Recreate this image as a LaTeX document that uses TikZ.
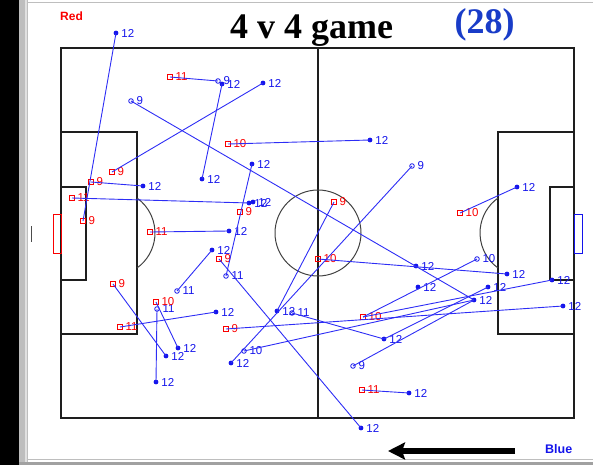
\documentclass[tikz,border=0pt]{standalone}
\usepackage{fontspec}
\setmainfont{Liberation Serif}
\newfontfamily\labfont{Liberation Sans}
\usetikzlibrary{arrows.meta}
\definecolor{ptblue}{RGB}{20,20,235}
\definecolor{lnblue}{RGB}{45,45,245}
\definecolor{ptred}{RGB}{250,0,0}
\definecolor{titleblue}{RGB}{25,60,200}
\definecolor{pitchc}{RGB}{30,30,30}
\definecolor{frameA}{RGB}{190,190,190}
\definecolor{frameB}{RGB}{225,225,225}
\begin{document}
\begin{tikzpicture}[x=1pt,y=-1pt,
  label distance=2.6pt,
  blab/.style={font=\labfont\fontsize{11.5}{12}\selectfont, text=ptblue, inner sep=0pt},
  rlab/.style={font=\labfont\fontsize{11.5}{12}\selectfont, text=ptred, inner sep=0pt},
  pd/.style={circle, fill=ptblue, inner sep=0pt, minimum size=4.8pt, label={[blab]right:#1}},
  pd/.default=12,
  po/.style={circle, draw=ptblue, line width=0.8pt, inner sep=0pt, minimum size=4.6pt, label={[blab]right:#1}},
  pr/.style={rectangle, draw=ptred, line width=0.8pt, inner sep=0pt, minimum size=4.8pt, label={[rlab]right:#1}},
  conn/.style={draw=lnblue, line width=0.9pt},
  pitch/.style={draw=pitchc, line width=1.2pt},
  arcline/.style={draw=pitchc!85!white, line width=1pt}
]
\useasboundingbox (0,0) rectangle (593,465);
% window frame
\fill[black] (0,0) rectangle (18.5,465);
\fill[frameA] (19,0) rectangle (24.5,465);
\fill[frameB] (24.5,0) rectangle (27,465);
\draw[frameA, line width=1.2pt] (27.5,0) -- (27.5,465);
\draw[frameA, line width=1.5pt] (27,2.5) -- (593,2.5);
\draw[frameA, line width=1.2pt] (28,459.5) -- (593,459.5);
\fill[frameA!85!black] (19,462) rectangle (593,465);
\draw[gray!60!black, line width=1pt] (31,226) -- (31,242);

% pitch
\draw[pitch] (61,48) rectangle (574,418);
\draw[pitch] (318,48) -- (318,418);
\draw[pitch] (61,132) rectangle (137,334);
\draw[pitch] (61,187) rectangle (86,280);
\draw[pitch] (498,132) rectangle (574,334);
\draw[pitch] (550,187) rectangle (574,280);
\draw[draw=ptred, line width=1pt] (53,214) rectangle (61,253);
\draw[draw=ptblue, line width=1pt] (574,214) rectangle (582,253);
\draw[arcline] (318,233) circle[radius=43];
\draw[arcline] (112,233) ++(-54.45:43) arc[start angle=-54.45, end angle=54.45, radius=43];
\draw[arcline] (523,233) ++(125.55:43) arc[start angle=125.55, end angle=234.45, radius=43];

% titles
\node[font=\bfseries\fontsize{36}{36}\selectfont, anchor=base, inner sep=0pt] (title) at (311.5,39) {4 v 4 game};
\node[font=\bfseries\fontsize{36}{36}\selectfont, text=titleblue, anchor=base, inner sep=0pt] (count) at (484.5,33.5) {(28)};
\node[font=\labfont\bfseries\fontsize{12}{12}\selectfont, text=ptred, anchor=base west, inner sep=0pt] (redlab) at (60,20.5) {Red};
\node[font=\labfont\bfseries\fontsize{12.5}{12.5}\selectfont, text=ptblue, anchor=base west, inner sep=0pt] (bluelab) at (545,453) {Blue};

% direction arrow
\coordinate (arrS) at (515,451);
\coordinate (arrE) at (388,451);
\draw[line width=5.5pt, -{Stealth[length=17pt,width=17pt,inset=3pt]}] (arrS) -- (arrE);

% markers: blue dots (12)
\node[pd] (D1) at (116,33) {};
\node[pd] (D2) at (222,84) {};
\node[pd] (D3) at (263,83) {};
\node[pd] (D4) at (370,140) {};
\node[pd] (D5) at (202,179) {};
\node[pd] (D6) at (252,164) {};
\node[pd] (D7) at (143,186) {};
\node[pd] (D8) at (249,203) {};
\node[pd] (D8b) at (253,202) {};
\node[pd] (D9) at (229,231) {};
\node[pd] (D10) at (212,250) {};
\node[pd] (D11) at (216,312) {};
\node[pd] (D12) at (277,311) {};
\node[pd] (D13) at (231,363) {};
\node[pd] (D14) at (178,348) {};
\node[pd] (D15) at (166,356) {};
\node[pd] (D16) at (156,382) {};
\node[pd] (D17) at (361,428) {};
\node[pd] (D18) at (409,393) {};
\node[pd] (D19) at (384,339) {};
\node[pd] (D20) at (416,266) {};
\node[pd] (D21) at (418,287) {};
\node[pd] (D22) at (507,274) {};
\node[pd] (D23) at (474,300) {};
\node[pd] (D24) at (488,287) {};
\node[pd] (D25) at (552,280) {};
\node[pd] (D26) at (563,306) {};
\node[pd] (D27) at (517,187) {};
% blue open circles
\node[po=9] (O1) at (218,81) {};
\node[po=9] (O2) at (131,101) {};
\node[po=9] (O3) at (412,166) {};
\node[po=11] (O4) at (177,291) {};
\node[po=11] (O5) at (226,276) {};
\node[po=11] (O6) at (157,309) {};
\node[po=11] (O7) at (292,313) {};
\node[po=10] (O8) at (244,351) {};
\node[po=10] (O9) at (477,259) {};
\node[po=9] (O10) at (353,366) {};
% red squares
\node[pr=11] (R1) at (170,77) {};
\node[pr=10] (R2) at (228,144) {};
\node[pr=9] (R3) at (112,172) {};
\node[pr=9] (R4) at (91,182) {};
\node[pr=11] (R5) at (72,198) {};
\node[pr=9] (R6) at (83,221) {};
\node[pr=9] (R7) at (240,212) {};
\node[pr=11] (R8) at (150,232) {};
\node[pr=9] (R9) at (219,259) {};
\node[pr=9] (R10) at (334,202) {};
\node[pr=10] (R11) at (318,259) {};
\node[pr=9] (R12) at (113,284) {};
\node[pr=10] (R13) at (156,302) {};
\node[pr=11] (R14) at (120,327) {};
\node[pr=9] (R15) at (226,329) {};
\node[pr=10] (R16) at (363,317) {};
\node[pr=11] (R17) at (362,390) {};
\node[pr=10] (R18) at (460,213) {};

% connectors
\draw[conn] (D1.center) -- (R6.center);
\draw[conn] (R1.center) -- (O1.center);
\draw[conn] (D2.center) -- (D5.center);
\draw[conn] (D3.center) -- (R3.center);
\draw[conn] (O2.center) -- (D23.center);
\draw[conn] (R2.center) -- (D4.center);
\draw[conn] (R4.center) -- (D7.center);
\draw[conn] (R5.center) -- (D8.center);
\draw[conn] (D6.center) -- (O5.center);
\draw[conn] (R8.center) -- (D9.center);
\draw[conn] (D10.center) -- (O4.center);
\draw[conn] (R9.center) -- (D17.center);
\draw[conn] (R10.center) -- (D12.center);
\draw[conn] (D13.center) -- (O3.center);
\draw[conn] (R11.center) -- (D22.center);
\draw[conn] (D27.center) -- (R18.center);
\draw[conn] (R14.center) -- (D11.center);
\draw[conn] (O6.center) -- (D16.center);
\draw[conn] (R13.center) -- (D14.center);
\draw[conn] (R12.center) -- (D15.center);
\draw[conn] (O7.center) -- (D19.center);
\draw[conn] (R15.center) -- (D26.center);
\draw[conn] (O8.center) -- (D23.center);
\draw[conn] (R16.center) -- (D25.center);
\draw[conn] (O9.center) -- (R16.center);
\draw[conn] (D19.center) -- (D24.center);
\draw[conn] (O10.center) -- (D23.center);
\draw[conn] (R17.center) -- (D18.center);
\end{tikzpicture}
\end{document}
